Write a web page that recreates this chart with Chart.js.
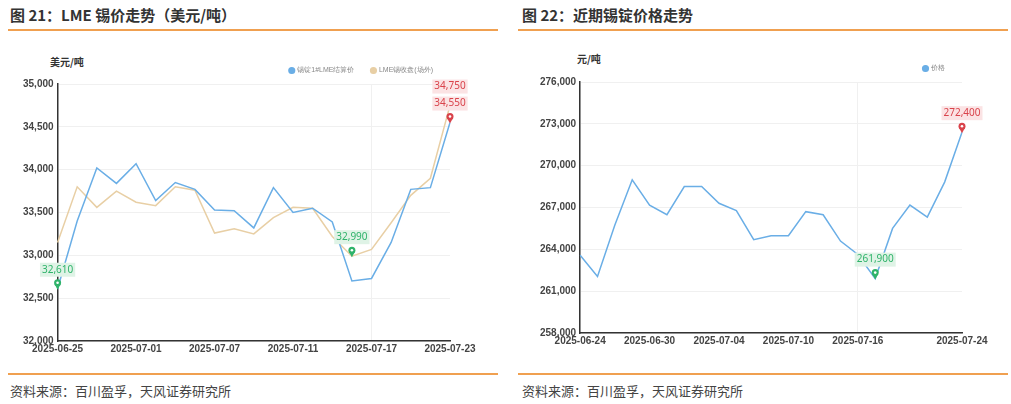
<!DOCTYPE html>
<html><head><meta charset="utf-8">
<script src="https://cdn.jsdelivr.net/npm/chart.js@4"></script>
<style>
body{margin:0;width:1011px;height:404px;background:#fff;font-family:"Noto Sans CJK SC","Noto Sans",sans-serif;position:relative;overflow:hidden}
.t{position:absolute;top:4px;font-size:15px;font-weight:bold;color:#333}
.ln{position:absolute;height:2px;background:#f0a050}
.src{position:absolute;top:381px;font-size:13px;color:#444}
.u{position:absolute;font-size:10px;font-weight:bold;color:#333}
.box{position:absolute}
</style></head><body>
<div class="t" style="left:10px">图 21：LME 锡价走势（美元/吨）</div>
<div class="t" style="left:522px">图 22：近期锡锭价格走势</div>
<div class="ln" style="left:8px;width:490px;top:29px"></div>
<div class="ln" style="left:518px;width:490px;top:29px"></div>
<div class="ln" style="left:8px;width:490px;top:373px;height:1.5px"></div>
<div class="ln" style="left:518px;width:490px;top:373px;height:1.5px"></div>
<div class="src" style="left:10px">资料来源：百川盈孚，天风证券研究所</div>
<div class="src" style="left:522px">资料来源：百川盈孚，天风证券研究所</div>
<div class="u" style="left:50px;top:54px">美元/吨</div>
<div class="u" style="left:577px;top:51px">元/吨</div>
<div class="box" style="left:8px;top:38px;width:490px;height:322px"><canvas id="c1"></canvas></div>
<div class="box" style="left:518px;top:38px;width:490px;height:322px"><canvas id="c2"></canvas></div>
<script>
const dates1=["2025-06-25","2025-06-26","2025-06-27","2025-06-30","2025-07-01","2025-07-02","2025-07-03","2025-07-04","2025-07-07","2025-07-08","2025-07-09","2025-07-10","2025-07-11","2025-07-14","2025-07-15","2025-07-16","2025-07-17","2025-07-18","2025-07-21","2025-07-22","2025-07-23"];
const lmeSettle=[32610,33400,34020,33840,34070,33640,33850,33770,33530,33520,33320,33790,33500,33550,33390,32700,32730,33150,33770,33790,34550];
const lmeOffer=[33150,33800,33560,33750,33620,33580,33800,33760,33260,33310,33250,33440,33560,33550,33220,32990,33070,33380,33700,33900,34750];
const seriesNames1=["锡锭1#LME结算价","LME锡收盘(场外)"];
const dates2=["2025-06-24","2025-06-25","2025-06-26","2025-06-27","2025-06-30","2025-07-01","2025-07-02","2025-07-03","2025-07-04","2025-07-07","2025-07-08","2025-07-09","2025-07-10","2025-07-11","2025-07-14","2025-07-15","2025-07-16","2025-07-17","2025-07-18","2025-07-21","2025-07-22","2025-07-23","2025-07-24"];
const tinIngot=[263580,262060,265750,268990,267170,266480,268500,268500,267300,266780,264690,264980,264980,266700,266480,264590,263630,261900,265500,267170,266310,268820,272400];
const seriesNames2=["价格"];
const ticks1=[0,4,8,12,16,20];
const ticks2=[0,4,8,12,16,22];

const fmt=v=>v.toLocaleString('en-US');
const pins={
 id:'pins',
 afterDatasetsDraw(ch,a,opt){
  const c=ch.ctx;
  (opt.list||[]).forEach(m=>{
   const p=ch.getDatasetMeta(m.ds).data[m.i];
   const x=p.x,y=p.y;
   c.save();
   c.fillStyle=m.color;
   c.beginPath();c.arc(x,y-6,3.5,0,Math.PI*2);c.fill();
   c.beginPath();c.moveTo(x-3,y-4.5);c.lineTo(x+3,y-4.5);c.lineTo(x,y+1);c.fill();
   c.fillStyle='#fff';c.beginPath();c.arc(x,y-6,1.3,0,Math.PI*2);c.fill();
   c.font='10px "Noto Sans"';c.textAlign='center';c.textBaseline='middle';
   const lines=m.text;
   lines.forEach((t,k)=>{
     const ly=y-19-(lines.length-1-k)*17;
     const w=c.measureText(t).width+4;
     c.fillStyle=m.bg;c.fillRect(x-w/2,ly-7,w,14);
     c.fillStyle=m.color;c.fillText(t,x,ly);
   });
   c.restore();
  });
 }
};
Chart.register(pins);
function opts(ticksIdx,labels,min,max,step,pinList,pad){
 return {responsive:true,maintainAspectRatio:false,animation:false,
  layout:{padding:pad},
  plugins:{legend:{position:'top',align:'end',labels:{usePointStyle:true,pointStyle:'circle',boxWidth:4,boxHeight:4,font:{size:7},color:'#888',padding:17}},
   tooltip:{enabled:false},pins:{list:pinList}},
  scales:{
   x:{grid:{color:'#f0f0f0',drawTicks:false},border:{color:'#333',width:1.5},
    ticks:{autoSkip:false,maxRotation:0,padding:2,color:'#444',font:{size:10,weight:'bold'},
     callback:(v,i)=>ticksIdx.includes(i)?labels[i]:null}},
   y:{min:min,max:max,grid:{color:'#f0f0f0',drawTicks:false},border:{color:'#333',width:1.5},
    ticks:{stepSize:step,padding:4,color:'#444',font:{size:10,weight:'bold'},callback:v=>fmt(v)}}
  }};
}
function xgrid(o,ticksIdx){o.scales.x.grid.color=c=>ticksIdx.includes(c.index)?'#f0f0f0':'transparent';return o;}
new Chart(document.getElementById('c1'),{type:'line',
 data:{labels:dates1,datasets:[
  {label:seriesNames1[0],data:lmeSettle,borderColor:'#6aaee6',backgroundColor:'#6aaee6',borderWidth:1.5,pointRadius:0,tension:0},
  {label:seriesNames1[1],data:lmeOffer,borderColor:'#e8cfa5',backgroundColor:'#e8cfa5',borderWidth:1.5,pointRadius:0,tension:0}]},
 options:xgrid(opts(ticks1,dates1,32000,35000,500,[
  {ds:0,i:0,color:'#2fb36a',bg:'#dff3e6',text:[fmt(32610)]},
  {ds:1,i:15,color:'#2fb36a',bg:'#dff3e6',text:[fmt(32990)]},
  {ds:0,i:20,color:'#d9434b',bg:'#fbe3e4',text:[fmt(34750),fmt(34550)]}],
  {left:11,right:48,top:12,bottom:3}),ticks1)});
new Chart(document.getElementById('c2'),{type:'line',
 data:{labels:dates2,datasets:[
  {label:seriesNames2[0],data:tinIngot,borderColor:'#6aaee6',backgroundColor:'#6aaee6',borderWidth:1.5,pointRadius:0,tension:0}]},
 options:xgrid(opts(ticks2,dates2,258000,276000,3000,[
  {ds:0,i:17,color:'#2fb36a',bg:'#dff3e6',text:[fmt(261900)]},
  {ds:0,i:22,color:'#d9434b',bg:'#fbe3e4',text:[fmt(272400)]}],
  {left:18,right:46,top:10,bottom:11}),ticks2)});
</script>
</body></html>
